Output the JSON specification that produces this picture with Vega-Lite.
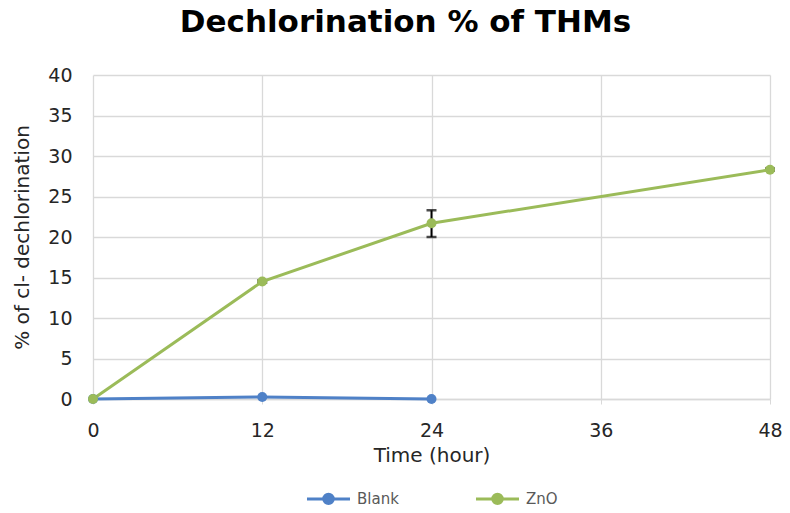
{
  "$schema": "https://vega.github.io/schema/vega-lite/v6.json",
  "width": 677,
  "height": 324,
  "autosize": {"type": "none"},
  "padding": {"left": 93, "top": 75, "right": 20, "bottom": 114},
  "background": "white",
  "title": {
    "text": "Dechlorination % of THMs",
    "font": "DejaVu Sans",
    "fontSize": 31,
    "fontWeight": "bold",
    "color": "#000000",
    "anchor": "middle",
    "dx": -26,
    "offset": 3,
    "baseline": "alphabetic"
  },
  "config": {
    "view": {"stroke": null},
    "font": "DejaVu Sans",
    "axis": {
      "labelFont": "DejaVu Sans",
      "titleFont": "DejaVu Sans",
      "labelFontSize": 19,
      "titleFontSize": 20,
      "labelColor": "#262626",
      "titleColor": "#262626",
      "titleFontWeight": "normal",
      "gridColor": "#d9d9d9",
      "gridWidth": 1.3
    },
    "legend": {
      "labelFont": "DejaVu Sans",
      "labelFontSize": 15,
      "labelColor": "#595959"
    }
  },
  "data": {
    "values": [
      {"series": "Blank", "time": 0, "pct": 0.0},
      {"series": "Blank", "time": 12, "pct": 0.25},
      {"series": "Blank", "time": 24, "pct": 0.0},
      {"series": "ZnO", "time": 0, "pct": 0.0, "lo": 0.0, "hi": 0.0},
      {"series": "ZnO", "time": 12, "pct": 14.5, "lo": 14.35, "hi": 14.65},
      {"series": "ZnO", "time": 24, "pct": 21.7, "lo": 20.0, "hi": 23.3},
      {"series": "ZnO", "time": 48, "pct": 28.3, "lo": 28.2, "hi": 28.45}
    ]
  },
  "encoding": {
    "x": {
      "field": "time",
      "type": "quantitative",
      "scale": {"domain": [0, 48], "nice": false},
      "axis": {
        "values": [0, 12, 24, 36, 48],
        "title": "Time (hour)",
        "titlePadding": 5,
        "labelPadding": 17,
        "labelFlush": false,
        "domain": true,
        "domainColor": "#d9d9d9",
        "domainWidth": 1.3,
        "ticks": true,
        "tickColor": "#d9d9d9",
        "tickSize": 5,
        "grid": true
      }
    },
    "y": {
      "field": "pct",
      "type": "quantitative",
      "scale": {"domain": [0, 40], "nice": false},
      "axis": {
        "values": [0, 5, 10, 15, 20, 25, 30, 35, 40],
        "title": "% of  cl- dechlorination",
        "titlePadding": 15,
        "labelPadding": 21,
        "domain": false,
        "ticks": false,
        "grid": true
      }
    }
  },
  "layer": [
    {
      "transform": [{"filter": "datum.series === 'ZnO' && datum.hi > datum.lo"}],
      "mark": {"type": "rule", "color": "#000000", "strokeWidth": 2},
      "encoding": {
        "y": {"field": "lo", "type": "quantitative"},
        "y2": {"field": "hi"}
      }
    },
    {
      "transform": [{"filter": "datum.series === 'ZnO' && datum.hi > datum.lo"}, {"fold": ["lo", "hi"], "as": ["end", "val"]}],
      "mark": {"type": "tick", "color": "#000000", "thickness": 2.5, "size": 10, "orient": "horizontal"},
      "encoding": {
        "y": {"field": "val", "type": "quantitative"}
      }
    },
    {
      "mark": {"type": "line", "strokeWidth": 3},
      "encoding": {
        "color": {
          "field": "series",
          "type": "nominal",
          "scale": {"domain": ["Blank", "ZnO"], "range": ["#4f81c7", "#9bbb59"]},
          "legend": {
            "title": null,
            "orient": "none",
            "legendX": 212,
            "legendY": 400,
            "direction": "horizontal",
            "columnPadding": 70,
            "symbolType": "M-1,0 L1,0 M-0.22,0 A0.22,0.22 0 1,1 0.22,0 A0.22,0.22 0 1,1 -0.22,0 Z",
            "symbolSize": 1850,
            "symbolStrokeWidth": 3,
            "labelOffset": 5
          }
        }
      }
    },
    {
      "mark": {"type": "point", "filled": true, "size": 100, "opacity": 1},
      "encoding": {
        "color": {"field": "series", "type": "nominal", "legend": null}
      }
    }
  ]
}
